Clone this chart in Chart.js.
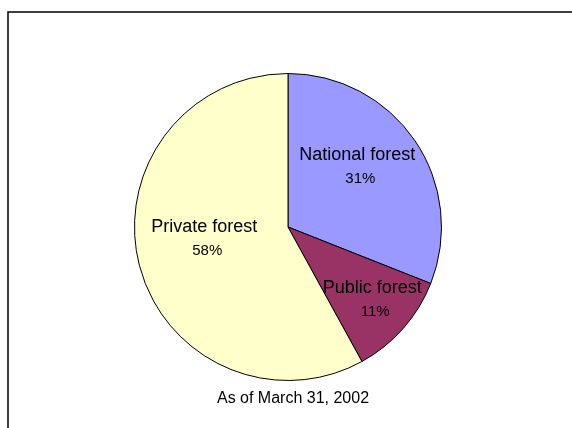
<!DOCTYPE html>
<html>
<head>
<meta charset="utf-8">
<script src="https://cdn.jsdelivr.net/npm/chart.js@4/dist/chart.umd.min.js"></script>
<style>
  html, body { margin: 0; padding: 0; background: #fff; }
  #wrap { width: 572px; height: 428px; position: relative; }
</style>
</head>
<body>
<div id="wrap"><canvas id="forestChart" width="572" height="428"></canvas></div>
<script>
const categories = ['National forest', 'Public forest', 'Private forest'];
const shares = [31, 11, 58];
const sliceColors = ['#9999FF', '#993366', '#FFFFCC'];
const footnote = 'As of March 31, 2002';

// label placement: fraction of radius and a small turn (degrees) off the slice middle
const labelDepth = [0.6, 0.72, 0.55];
const labelTurn = [-7, -1, 7];

const frame = {
  id: 'frame',
  beforeDraw(chart) {
    const ctx = chart.ctx;
    ctx.save();
    ctx.fillStyle = '#fff';
    ctx.fillRect(0, 0, chart.width, chart.height);
    ctx.strokeStyle = '#000';
    ctx.lineWidth = 1.5;
    ctx.beginPath();
    ctx.moveTo(8, chart.height);
    ctx.lineTo(8, 12);
    ctx.lineTo(chart.width, 12);
    ctx.stroke();
    ctx.restore();
  }
};

const sliceLabels = {
  id: 'sliceLabels',
  afterDatasetsDraw(chart) {
    const ctx = chart.ctx;
    const meta = chart.getDatasetMeta(0);
    const total = shares.reduce((a, b) => a + b, 0);
    ctx.save();
    ctx.fillStyle = '#000';
    ctx.textAlign = 'center';
    ctx.textBaseline = 'middle';
    meta.data.forEach((arc, i) => {
      const p = arc.getProps(['x', 'y', 'startAngle', 'endAngle', 'outerRadius'], true);
      const mid = (p.startAngle + p.endAngle) / 2 + labelTurn[i] * Math.PI / 180;
      const d = p.outerRadius * labelDepth[i];
      const lx = p.x + Math.cos(mid) * d;
      const ly = p.y + Math.sin(mid) * d;
      ctx.font = '18px "Liberation Sans", Arial, sans-serif';
      ctx.fillText(categories[i], lx, ly - 11);
      ctx.font = '15px "Liberation Sans", Arial, sans-serif';
      ctx.fillText(Math.round(shares[i] / total * 100) + '%', lx + 3, ly + 13);
    });
    ctx.font = '16px "Liberation Sans", Arial, sans-serif';
    ctx.fillText(footnote, 293, 399);
    ctx.restore();
  }
};

const ctx = document.getElementById('forestChart').getContext('2d');
new Chart(ctx, {
  type: 'pie',
  data: {
    labels: categories,
    datasets: [{
      data: shares,
      backgroundColor: sliceColors,
      borderColor: '#000',
      borderWidth: 1
    }]
  },
  options: {
    responsive: false,
    animation: false,
    layout: {
      padding: { top: 73, bottom: 47, left: 134, right: 130 }
    },
    plugins: {
      legend: { display: false },
      tooltip: { enabled: false }
    }
  },
  plugins: [frame, sliceLabels]
});
</script>
</body>
</html>
